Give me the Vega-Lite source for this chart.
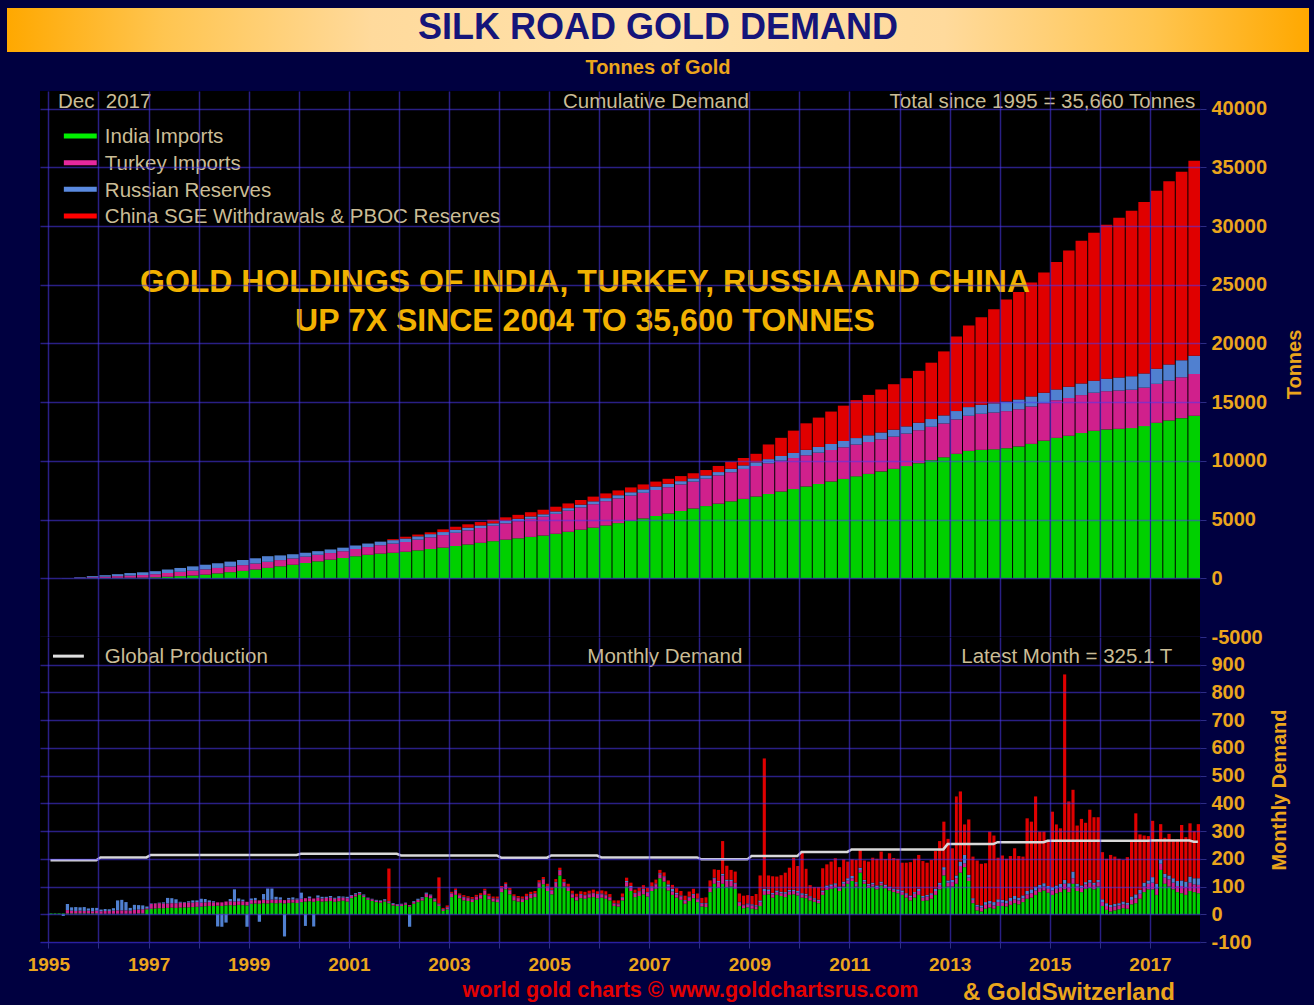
{
"$schema":"https://vega.github.io/schema/vega-lite/v6.json",
"background":"#000040",
"padding":{"left":7,"top":8,"right":5,"bottom":0},
"config":{"font":"Liberation Sans","view":{"fill":"#000000","stroke":null}},
"datasets":{
"cum":[
{"q":"1995-01","a":2,"b":0,"c":0,"d":0},{"q":"1995-04","a":5,"b":4,"c":6,"d":0},{"q":"1995-07","a":12,"b":30,"c":45,"d":0},{"q":"1995-10","a":22,"b":65,"c":95,"d":0},
{"q":"1996-01","a":34,"b":100,"c":130,"d":0},{"q":"1996-04","a":41,"b":140,"c":170,"d":0},{"q":"1996-07","a":49,"b":180,"c":215,"d":0},{"q":"1996-10","a":56,"b":220,"c":235,"d":0},
{"q":"1997-01","a":85,"b":265,"c":255,"d":0},{"q":"1997-04","a":135,"b":315,"c":300,"d":0},{"q":"1997-07","a":185,"b":365,"c":330,"d":0},{"q":"1997-10","a":235,"b":415,"c":365,"d":0},
{"q":"1998-01","a":312,"b":448,"c":395,"d":0},{"q":"1998-04","a":418,"b":462,"c":400,"d":0},{"q":"1998-07","a":522,"b":478,"c":420,"d":0},{"q":"1998-10","a":628,"b":492,"c":440,"d":0},
{"q":"1999-01","a":750,"b":505,"c":450,"d":0},{"q":"1999-04","a":886,"b":515,"c":480,"d":0},{"q":"1999-07","a":1024,"b":525,"c":400,"d":0},{"q":"1999-10","a":1160,"b":535,"c":360,"d":0},
{"q":"2000-01","a":1300,"b":545,"c":330,"d":0},{"q":"2000-04","a":1444,"b":555,"c":310,"d":0},{"q":"2000-07","a":1586,"b":565,"c":305,"d":0},{"q":"2000-10","a":1730,"b":575,"c":302,"d":0},
{"q":"2001-01","a":1880,"b":610,"c":300,"d":0},{"q":"2001-04","a":2000,"b":660,"c":300,"d":0},{"q":"2001-07","a":2100,"b":720,"c":300,"d":0},{"q":"2001-10","a":2170,"b":780,"c":300,"d":80},
{"q":"2002-01","a":2260,"b":840,"c":295,"d":150},{"q":"2002-04","a":2375,"b":915,"c":285,"d":150},{"q":"2002-07","a":2495,"b":995,"c":270,"d":155},{"q":"2002-10","a":2610,"b":1070,"c":258,"d":230},
{"q":"2003-01","a":2740,"b":1140,"c":245,"d":275},{"q":"2003-04","a":2880,"b":1200,"c":235,"d":282},{"q":"2003-07","a":3020,"b":1260,"c":220,"d":290},{"q":"2003-10","a":3160,"b":1320,"c":205,"d":297},
{"q":"2004-01","a":3290,"b":1390,"c":200,"d":312},{"q":"2004-04","a":3405,"b":1460,"c":200,"d":338},{"q":"2004-07","a":3525,"b":1540,"c":200,"d":362},{"q":"2004-10","a":3640,"b":1610,"c":200,"d":388},
{"q":"2005-01","a":3790,"b":1700,"c":205,"d":400},{"q":"2005-04","a":3960,"b":1800,"c":215,"d":400},{"q":"2005-07","a":4140,"b":1900,"c":230,"d":400},{"q":"2005-10","a":4310,"b":2000,"c":245,"d":400},
{"q":"2006-01","a":4500,"b":2070,"c":256,"d":402},{"q":"2006-04","a":4700,"b":2105,"c":270,"d":408},{"q":"2006-07","a":4900,"b":2145,"c":282,"d":412},{"q":"2006-10","a":5100,"b":2180,"c":295,"d":418},
{"q":"2007-01","a":5305,"b":2212,"c":296,"d":422},{"q":"2007-04","a":5520,"b":2238,"c":288,"d":428},{"q":"2007-07","a":5730,"b":2262,"c":280,"d":432},{"q":"2007-10","a":5945,"b":2288,"c":274,"d":438},
{"q":"2008-01","a":6150,"b":2335,"c":274,"d":460},{"q":"2008-04","a":6355,"b":2410,"c":282,"d":520},{"q":"2008-07","a":6555,"b":2480,"c":290,"d":590},{"q":"2008-10","a":6760,"b":2555,"c":297,"d":635},
{"q":"2009-01","a":6965,"b":2598,"c":318,"d":720},{"q":"2009-04","a":7180,"b":2612,"c":355,"d":1250},{"q":"2009-07","a":7390,"b":2628,"c":395,"d":1550},{"q":"2009-10","a":7600,"b":2642,"c":432,"d":1900},
{"q":"2010-01","a":7820,"b":2656,"c":462,"d":2260},{"q":"2010-04","a":8030,"b":2668,"c":488,"d":2500},{"q":"2010-07","a":8245,"b":2682,"c":512,"d":2760},{"q":"2010-10","a":8460,"b":2694,"c":538,"d":3010},
{"q":"2011-01","a":8680,"b":2706,"c":556,"d":3230},{"q":"2011-04","a":8890,"b":2718,"c":568,"d":3440},{"q":"2011-07","a":9105,"b":2732,"c":582,"d":3660},{"q":"2011-10","a":9320,"b":2745,"c":594,"d":3870},
{"q":"2012-01","a":9555,"b":2770,"c":612,"d":4100},{"q":"2012-04","a":9805,"b":2805,"c":638,"d":4420},{"q":"2012-07","a":10055,"b":2845,"c":662,"d":4800},{"q":"2012-10","a":10305,"b":2880,"c":688,"d":5450},
{"q":"2013-01","a":10600,"b":2930,"c":712,"d":6350},{"q":"2013-04","a":10850,"b":2990,"c":740,"d":6950},{"q":"2013-07","a":10940,"b":3070,"c":765,"d":7450},{"q":"2013-10","a":10985,"b":3130,"c":790,"d":8000},
{"q":"2014-01","a":11080,"b":3156,"c":812,"d":8700},{"q":"2014-04","a":11230,"b":3168,"c":838,"d":9150},{"q":"2014-07","a":11450,"b":3180,"c":862,"d":9700},{"q":"2014-10","a":11720,"b":3194,"c":888,"d":10250},
{"q":"2015-01","a":11960,"b":3206,"c":918,"d":10850},{"q":"2015-04","a":12140,"b":3218,"c":950,"d":11600},{"q":"2015-07","a":12370,"b":3232,"c":990,"d":12150},{"q":"2015-10","a":12560,"b":3244,"c":1030,"d":12600},
{"q":"2016-01","a":12680,"b":3254,"c":1070,"d":13100},{"q":"2016-04","a":12730,"b":3262,"c":1110,"d":13600},{"q":"2016-07","a":12790,"b":3270,"c":1150,"d":14100},{"q":"2016-10","a":12960,"b":3276,"c":1210,"d":14600},
{"q":"2017-01","a":13240,"b":3320,"c":1290,"d":15150},{"q":"2017-04","a":13440,"b":3400,"c":1370,"d":15600},{"q":"2017-07","a":13640,"b":3480,"c":1450,"d":16060},{"q":"2017-10","a":13840,"b":3560,"c":1555,"d":16600}
],
"mon":[
{"m":"1995-01","a":3,"b":0,"c":0,"d":0,"g":195},{"m":"1995-02","a":3,"b":0,"c":0,"d":0,"g":195},{"m":"1995-03","a":3,"b":0,"c":0,"d":0,"g":195},{"m":"1995-04","a":3,"b":0,"c":-6,"d":0,"g":195},{"m":"1995-05","a":3,"b":12,"c":22,"d":0,"g":195},{"m":"1995-06","a":3,"b":10,"c":12,"d":0,"g":195},{"m":"1995-07","a":3,"b":9,"c":14,"d":0,"g":195},{"m":"1995-08","a":3,"b":10,"c":12,"d":0,"g":195},{"m":"1995-09","a":3,"b":9,"c":14,"d":0,"g":195},{"m":"1995-10","a":3,"b":10,"c":8,"d":0,"g":195},{"m":"1995-11","a":3,"b":8,"c":12,"d":0,"g":195},{"m":"1995-12","a":3,"b":10,"c":10,"d":0,"g":195},
{"m":"1996-01","a":2,"b":9,"c":6,"d":0,"g":205},{"m":"1996-02","a":2,"b":10,"c":7,"d":0,"g":205},{"m":"1996-03","a":2,"b":10,"c":6,"d":0,"g":205},{"m":"1996-04","a":2,"b":11,"c":9,"d":0,"g":205},{"m":"1996-05","a":2,"b":12,"c":36,"d":0,"g":205},{"m":"1996-06","a":2,"b":12,"c":38,"d":0,"g":205},{"m":"1996-07","a":2,"b":12,"c":30,"d":0,"g":205},{"m":"1996-08","a":2,"b":11,"c":10,"d":0,"g":205},{"m":"1996-09","a":2,"b":14,"c":18,"d":0,"g":205},{"m":"1996-10","a":3,"b":14,"c":16,"d":0,"g":205},{"m":"1996-11","a":3,"b":15,"c":14,"d":0,"g":205},{"m":"1996-12","a":18,"b":4,"c":6,"d":0,"g":205},
{"m":"1997-01","a":20,"b":17,"c":2,"d":0,"g":214},{"m":"1997-02","a":21,"b":18,"c":1,"d":0,"g":214},{"m":"1997-03","a":22,"b":18,"c":2,"d":0,"g":214},{"m":"1997-04","a":22,"b":17,"c":4,"d":0,"g":214},{"m":"1997-05","a":23,"b":16,"c":20,"d":0,"g":214},{"m":"1997-06","a":24,"b":16,"c":18,"d":0,"g":214},{"m":"1997-07","a":23,"b":17,"c":14,"d":0,"g":214},{"m":"1997-08","a":24,"b":18,"c":3,"d":0,"g":214},{"m":"1997-09","a":25,"b":17,"c":2,"d":0,"g":214},{"m":"1997-10","a":25,"b":18,"c":4,"d":0,"g":214},{"m":"1997-11","a":26,"b":16,"c":8,"d":0,"g":214},{"m":"1997-12","a":27,"b":17,"c":6,"d":0,"g":214},
{"m":"1998-01","a":28,"b":14,"c":14,"d":0,"g":214},{"m":"1998-02","a":29,"b":14,"c":12,"d":0,"g":214},{"m":"1998-03","a":30,"b":14,"c":6,"d":0,"g":214},{"m":"1998-04","a":30,"b":13,"c":4,"d":0,"g":214},{"m":"1998-05","a":31,"b":12,"c":-44,"d":0,"g":214},{"m":"1998-06","a":30,"b":13,"c":-45,"d":0,"g":214},{"m":"1998-07","a":32,"b":14,"c":-30,"d":0,"g":214},{"m":"1998-08","a":33,"b":14,"c":8,"d":0,"g":214},{"m":"1998-09","a":32,"b":14,"c":44,"d":0,"g":214},{"m":"1998-10","a":34,"b":13,"c":10,"d":0,"g":214},{"m":"1998-11","a":33,"b":14,"c":6,"d":0,"g":214},{"m":"1998-12","a":32,"b":13,"c":-45,"d":0,"g":214},
{"m":"1999-01","a":38,"b":13,"c":6,"d":0,"g":214},{"m":"1999-02","a":39,"b":12,"c":8,"d":0,"g":214},{"m":"1999-03","a":38,"b":12,"c":-27,"d":0,"g":214},{"m":"1999-04","a":40,"b":13,"c":20,"d":0,"g":214},{"m":"1999-05","a":39,"b":12,"c":42,"d":0,"g":214},{"m":"1999-06","a":41,"b":12,"c":40,"d":0,"g":214},{"m":"1999-07","a":40,"b":13,"c":10,"d":0,"g":214},{"m":"1999-08","a":41,"b":12,"c":8,"d":0,"g":214},{"m":"1999-09","a":39,"b":12,"c":-80,"d":0,"g":214},{"m":"1999-10","a":41,"b":12,"c":6,"d":0,"g":214},{"m":"1999-11","a":42,"b":11,"c":8,"d":0,"g":214},{"m":"1999-12","a":41,"b":12,"c":4,"d":0,"g":214},
{"m":"2000-01","a":44,"b":12,"c":22,"d":0,"g":218},{"m":"2000-02","a":46,"b":12,"c":-42,"d":0,"g":218},{"m":"2000-03","a":47,"b":11,"c":6,"d":0,"g":218},{"m":"2000-04","a":45,"b":12,"c":-44,"d":0,"g":218},{"m":"2000-05","a":48,"b":12,"c":8,"d":0,"g":218},{"m":"2000-06","a":46,"b":11,"c":6,"d":0,"g":218},{"m":"2000-07","a":47,"b":12,"c":4,"d":0,"g":218},{"m":"2000-08","a":48,"b":12,"c":6,"d":0,"g":218},{"m":"2000-09","a":45,"b":11,"c":4,"d":0,"g":218},{"m":"2000-10","a":47,"b":12,"c":6,"d":0,"g":218},{"m":"2000-11","a":49,"b":11,"c":4,"d":0,"g":218},{"m":"2000-12","a":46,"b":12,"c":5,"d":0,"g":218},
{"m":"2001-01","a":58,"b":8,"c":3,"d":0,"g":218},{"m":"2001-02","a":64,"b":8,"c":4,"d":0,"g":218},{"m":"2001-03","a":70,"b":6,"c":4,"d":0,"g":218},{"m":"2001-04","a":62,"b":6,"c":3,"d":0,"g":218},{"m":"2001-05","a":52,"b":6,"c":2,"d":0,"g":218},{"m":"2001-06","a":48,"b":6,"c":2,"d":0,"g":218},{"m":"2001-07","a":44,"b":5,"c":3,"d":0,"g":218},{"m":"2001-08","a":42,"b":6,"c":2,"d":0,"g":218},{"m":"2001-09","a":46,"b":5,"c":3,"d":0,"g":218},{"m":"2001-10","a":40,"b":4,"c":3,"d":118,"g":218},{"m":"2001-11","a":32,"b":5,"c":3,"d":0,"g":218},{"m":"2001-12","a":30,"b":5,"c":2,"d":0,"g":218},
{"m":"2002-01","a":30,"b":6,"c":2,"d":0,"g":212},{"m":"2002-02","a":34,"b":6,"c":2,"d":0,"g":212},{"m":"2002-03","a":28,"b":5,"c":-45,"d":0,"g":212},{"m":"2002-04","a":38,"b":6,"c":3,"d":0,"g":212},{"m":"2002-05","a":44,"b":8,"c":4,"d":0,"g":212},{"m":"2002-06","a":50,"b":8,"c":3,"d":0,"g":212},{"m":"2002-07","a":62,"b":12,"c":4,"d":0,"g":212},{"m":"2002-08","a":58,"b":10,"c":3,"d":0,"g":212},{"m":"2002-09","a":46,"b":8,"c":3,"d":0,"g":212},{"m":"2002-10","a":30,"b":6,"c":3,"d":94,"g":212},{"m":"2002-11","a":12,"b":5,"c":2,"d":4,"g":212},{"m":"2002-12","a":18,"b":6,"c":2,"d":6,"g":212},
{"m":"2003-01","a":62,"b":12,"c":2,"d":5,"g":212},{"m":"2003-02","a":70,"b":14,"c":3,"d":6,"g":212},{"m":"2003-03","a":58,"b":10,"c":2,"d":5,"g":212},{"m":"2003-04","a":50,"b":10,"c":3,"d":6,"g":212},{"m":"2003-05","a":48,"b":10,"c":2,"d":5,"g":212},{"m":"2003-06","a":44,"b":9,"c":3,"d":6,"g":212},{"m":"2003-07","a":52,"b":10,"c":2,"d":6,"g":212},{"m":"2003-08","a":56,"b":10,"c":3,"d":7,"g":212},{"m":"2003-09","a":70,"b":14,"c":2,"d":6,"g":212},{"m":"2003-10","a":54,"b":10,"c":3,"d":7,"g":212},{"m":"2003-11","a":46,"b":10,"c":2,"d":6,"g":212},{"m":"2003-12","a":44,"b":10,"c":3,"d":7,"g":212},
{"m":"2004-01","a":80,"b":14,"c":2,"d":6,"g":204},{"m":"2004-02","a":90,"b":16,"c":3,"d":6,"g":204},{"m":"2004-03","a":72,"b":14,"c":2,"d":7,"g":204},{"m":"2004-04","a":50,"b":12,"c":3,"d":7,"g":204},{"m":"2004-05","a":46,"b":12,"c":2,"d":6,"g":204},{"m":"2004-06","a":44,"b":10,"c":3,"d":7,"g":204},{"m":"2004-07","a":52,"b":12,"c":2,"d":8,"g":204},{"m":"2004-08","a":58,"b":12,"c":3,"d":8,"g":204},{"m":"2004-09","a":62,"b":12,"c":2,"d":8,"g":204},{"m":"2004-10","a":96,"b":16,"c":3,"d":8,"g":204},{"m":"2004-11","a":108,"b":16,"c":2,"d":8,"g":204},{"m":"2004-12","a":84,"b":14,"c":3,"d":9,"g":204},
{"m":"2005-01","a":72,"b":14,"c":2,"d":9,"g":212},{"m":"2005-02","a":98,"b":16,"c":3,"d":10,"g":212},{"m":"2005-03","a":140,"b":16,"c":3,"d":9,"g":212},{"m":"2005-04","a":100,"b":14,"c":3,"d":10,"g":212},{"m":"2005-05","a":84,"b":14,"c":2,"d":10,"g":212},{"m":"2005-06","a":60,"b":12,"c":3,"d":10,"g":212},{"m":"2005-07","a":50,"b":12,"c":2,"d":10,"g":212},{"m":"2005-08","a":58,"b":12,"c":3,"d":10,"g":212},{"m":"2005-09","a":56,"b":12,"c":2,"d":11,"g":212},{"m":"2005-10","a":60,"b":12,"c":3,"d":10,"g":212},{"m":"2005-11","a":62,"b":14,"c":2,"d":11,"g":212},{"m":"2005-12","a":58,"b":12,"c":3,"d":10,"g":212},
{"m":"2006-01","a":60,"b":12,"c":3,"d":11,"g":205},{"m":"2006-02","a":56,"b":12,"c":3,"d":12,"g":205},{"m":"2006-03","a":50,"b":10,"c":2,"d":11,"g":205},{"m":"2006-04","a":30,"b":8,"c":2,"d":10,"g":205},{"m":"2006-05","a":28,"b":8,"c":3,"d":11,"g":205},{"m":"2006-06","a":50,"b":10,"c":3,"d":12,"g":205},{"m":"2006-07","a":100,"b":16,"c":4,"d":12,"g":205},{"m":"2006-08","a":84,"b":14,"c":4,"d":12,"g":205},{"m":"2006-09","a":62,"b":12,"c":3,"d":12,"g":205},{"m":"2006-10","a":66,"b":14,"c":3,"d":14,"g":205},{"m":"2006-11","a":72,"b":16,"c":3,"d":14,"g":205},{"m":"2006-12","a":64,"b":14,"c":3,"d":14,"g":205},
{"m":"2007-01","a":84,"b":14,"c":3,"d":14,"g":205},{"m":"2007-02","a":92,"b":16,"c":3,"d":14,"g":205},{"m":"2007-03","a":130,"b":14,"c":4,"d":12,"g":205},{"m":"2007-04","a":118,"b":16,"c":3,"d":14,"g":205},{"m":"2007-05","a":86,"b":14,"c":8,"d":14,"g":205},{"m":"2007-06","a":70,"b":12,"c":10,"d":14,"g":205},{"m":"2007-07","a":60,"b":12,"c":6,"d":16,"g":205},{"m":"2007-08","a":52,"b":12,"c":4,"d":16,"g":205},{"m":"2007-09","a":38,"b":10,"c":3,"d":16,"g":205},{"m":"2007-10","a":48,"b":12,"c":4,"d":18,"g":205},{"m":"2007-11","a":58,"b":12,"c":4,"d":18,"g":205},{"m":"2007-12","a":44,"b":10,"c":3,"d":18,"g":205},
{"m":"2008-01","a":28,"b":10,"c":3,"d":18,"g":198},{"m":"2008-02","a":26,"b":12,"c":3,"d":20,"g":198},{"m":"2008-03","a":80,"b":16,"c":4,"d":22,"g":198},{"m":"2008-04","a":110,"b":18,"c":4,"d":30,"g":198},{"m":"2008-05","a":96,"b":20,"c":4,"d":40,"g":198},{"m":"2008-06","a":110,"b":30,"c":6,"d":118,"g":198},{"m":"2008-07","a":98,"b":22,"c":5,"d":50,"g":198},{"m":"2008-08","a":100,"b":20,"c":5,"d":35,"g":198},{"m":"2008-09","a":92,"b":18,"c":4,"d":40,"g":198},{"m":"2008-10","a":30,"b":12,"c":3,"d":30,"g":198},{"m":"2008-11","a":22,"b":10,"c":3,"d":32,"g":198},{"m":"2008-12","a":25,"b":10,"c":4,"d":30,"g":198},
{"m":"2009-01","a":20,"b":12,"c":4,"d":30,"g":210},{"m":"2009-02","a":18,"b":10,"c":5,"d":40,"g":210},{"m":"2009-03","a":30,"b":14,"c":6,"d":90,"g":210},{"m":"2009-04","a":70,"b":14,"c":8,"d":470,"g":210},{"m":"2009-05","a":72,"b":12,"c":6,"d":50,"g":210},{"m":"2009-06","a":60,"b":12,"c":5,"d":60,"g":210},{"m":"2009-07","a":70,"b":10,"c":6,"d":50,"g":210},{"m":"2009-08","a":66,"b":10,"c":5,"d":60,"g":210},{"m":"2009-09","a":62,"b":12,"c":6,"d":70,"g":210},{"m":"2009-10","a":70,"b":12,"c":6,"d":80,"g":210},{"m":"2009-11","a":72,"b":12,"c":5,"d":115,"g":210},{"m":"2009-12","a":68,"b":10,"c":6,"d":90,"g":210},
{"m":"2010-01","a":60,"b":10,"c":6,"d":150,"g":225},{"m":"2010-02","a":58,"b":10,"c":6,"d":90,"g":225},{"m":"2010-03","a":50,"b":10,"c":5,"d":40,"g":225},{"m":"2010-04","a":45,"b":8,"c":5,"d":40,"g":225},{"m":"2010-05","a":40,"b":8,"c":5,"d":45,"g":225},{"m":"2010-06","a":70,"b":10,"c":6,"d":80,"g":225},{"m":"2010-07","a":88,"b":10,"c":6,"d":76,"g":225},{"m":"2010-08","a":92,"b":10,"c":6,"d":82,"g":225},{"m":"2010-09","a":96,"b":10,"c":6,"d":90,"g":225},{"m":"2010-10","a":84,"b":10,"c":6,"d":70,"g":225},{"m":"2010-11","a":100,"b":10,"c":8,"d":80,"g":225},{"m":"2010-12","a":110,"b":12,"c":8,"d":60,"g":225},
{"m":"2011-01","a":120,"b":10,"c":8,"d":60,"g":234},{"m":"2011-02","a":100,"b":10,"c":6,"d":80,"g":234},{"m":"2011-03","a":150,"b":10,"c":8,"d":64,"g":234},{"m":"2011-04","a":110,"b":8,"c":6,"d":70,"g":234},{"m":"2011-05","a":96,"b":8,"c":6,"d":80,"g":234},{"m":"2011-06","a":100,"b":8,"c":6,"d":90,"g":234},{"m":"2011-07","a":90,"b":8,"c":6,"d":96,"g":234},{"m":"2011-08","a":104,"b":8,"c":6,"d":108,"g":234},{"m":"2011-09","a":94,"b":8,"c":5,"d":92,"g":234},{"m":"2011-10","a":86,"b":8,"c":6,"d":120,"g":234},{"m":"2011-11","a":80,"b":8,"c":5,"d":110,"g":234},{"m":"2011-12","a":76,"b":8,"c":6,"d":110,"g":234},
{"m":"2012-01","a":70,"b":10,"c":6,"d":100,"g":234},{"m":"2012-02","a":60,"b":10,"c":6,"d":110,"g":234},{"m":"2012-03","a":50,"b":12,"c":6,"d":120,"g":234},{"m":"2012-04","a":60,"b":14,"c":6,"d":120,"g":234},{"m":"2012-05","a":70,"b":14,"c":8,"d":122,"g":234},{"m":"2012-06","a":48,"b":12,"c":6,"d":126,"g":234},{"m":"2012-07","a":50,"b":14,"c":6,"d":116,"g":234},{"m":"2012-08","a":56,"b":14,"c":6,"d":120,"g":234},{"m":"2012-09","a":70,"b":14,"c":8,"d":136,"g":234},{"m":"2012-10","a":90,"b":16,"c":8,"d":150,"g":234},{"m":"2012-11","a":140,"b":20,"c":10,"d":164,"g":234},{"m":"2012-12","a":100,"b":14,"c":8,"d":150,"g":253},
{"m":"2013-01","a":100,"b":16,"c":8,"d":114,"g":253},{"m":"2013-02","a":110,"b":20,"c":10,"d":285,"g":253},{"m":"2013-03","a":150,"b":24,"c":16,"d":253,"g":253},{"m":"2013-04","a":170,"b":14,"c":30,"d":110,"g":253},{"m":"2013-05","a":120,"b":12,"c":10,"d":200,"g":253},{"m":"2013-06","a":40,"b":12,"c":6,"d":150,"g":253},{"m":"2013-07","a":14,"b":14,"c":6,"d":160,"g":253},{"m":"2013-08","a":10,"b":14,"c":8,"d":150,"g":253},{"m":"2013-09","a":20,"b":14,"c":10,"d":140,"g":253},{"m":"2013-10","a":24,"b":14,"c":10,"d":250,"g":253},{"m":"2013-11","a":20,"b":12,"c":12,"d":240,"g":253},{"m":"2013-12","a":30,"b":14,"c":10,"d":150,"g":260},
{"m":"2014-01","a":30,"b":12,"c":10,"d":160,"g":260},{"m":"2014-02","a":28,"b":12,"c":10,"d":150,"g":260},{"m":"2014-03","a":34,"b":14,"c":12,"d":150,"g":260},{"m":"2014-04","a":40,"b":14,"c":12,"d":172,"g":260},{"m":"2014-05","a":36,"b":14,"c":10,"d":150,"g":260},{"m":"2014-06","a":44,"b":14,"c":10,"d":140,"g":260},{"m":"2014-07","a":56,"b":16,"c":12,"d":262,"g":260},{"m":"2014-08","a":60,"b":16,"c":14,"d":244,"g":260},{"m":"2014-09","a":70,"b":16,"c":14,"d":325,"g":260},{"m":"2014-10","a":80,"b":14,"c":12,"d":192,"g":260},{"m":"2014-11","a":86,"b":14,"c":12,"d":186,"g":260},{"m":"2014-12","a":78,"b":14,"c":10,"d":160,"g":265},
{"m":"2015-01","a":70,"b":16,"c":12,"d":272,"g":265},{"m":"2015-02","a":76,"b":16,"c":12,"d":220,"g":265},{"m":"2015-03","a":80,"b":18,"c":12,"d":200,"g":265},{"m":"2015-04","a":90,"b":20,"c":14,"d":741,"g":265},{"m":"2015-05","a":80,"b":18,"c":14,"d":295,"g":265},{"m":"2015-06","a":110,"b":20,"c":24,"d":295,"g":265},{"m":"2015-07","a":84,"b":16,"c":10,"d":210,"g":265},{"m":"2015-08","a":80,"b":16,"c":8,"d":240,"g":265},{"m":"2015-09","a":92,"b":16,"c":8,"d":214,"g":265},{"m":"2015-10","a":96,"b":18,"c":10,"d":253,"g":265},{"m":"2015-11","a":90,"b":16,"c":8,"d":236,"g":265},{"m":"2015-12","a":100,"b":16,"c":8,"d":226,"g":265},
{"m":"2016-01","a":30,"b":14,"c":10,"d":170,"g":265},{"m":"2016-02","a":16,"b":14,"c":10,"d":160,"g":265},{"m":"2016-03","a":10,"b":16,"c":8,"d":180,"g":265},{"m":"2016-04","a":14,"b":14,"c":10,"d":170,"g":265},{"m":"2016-05","a":18,"b":14,"c":8,"d":160,"g":265},{"m":"2016-06","a":22,"b":14,"c":10,"d":150,"g":265},{"m":"2016-07","a":20,"b":14,"c":8,"d":164,"g":265},{"m":"2016-08","a":36,"b":16,"c":12,"d":200,"g":265},{"m":"2016-09","a":40,"b":18,"c":14,"d":292,"g":265},{"m":"2016-10","a":56,"b":18,"c":14,"d":200,"g":265},{"m":"2016-11","a":80,"b":20,"c":14,"d":170,"g":265},{"m":"2016-12","a":90,"b":20,"c":12,"d":160,"g":265},
{"m":"2017-01","a":90,"b":24,"c":20,"d":203,"g":266},{"m":"2017-02","a":70,"b":22,"c":18,"d":160,"g":266},{"m":"2017-03","a":160,"b":22,"c":16,"d":127,"g":266},{"m":"2017-04","a":110,"b":22,"c":14,"d":130,"g":266},{"m":"2017-05","a":100,"b":26,"c":14,"d":150,"g":266},{"m":"2017-06","a":90,"b":24,"c":16,"d":140,"g":266},{"m":"2017-07","a":80,"b":22,"c":18,"d":150,"g":266},{"m":"2017-08","a":76,"b":26,"c":20,"d":200,"g":266},{"m":"2017-09","a":70,"b":28,"c":20,"d":160,"g":266},{"m":"2017-10","a":84,"b":30,"c":22,"d":192,"g":266},{"m":"2017-11","a":80,"b":28,"c":22,"d":170,"g":262},{"m":"2017-12","a":76,"b":30,"c":24,"d":195,"g":262}
]},
"spacing":10,
"vconcat":[
{
"width":1302,"height":44,
"data":{"values":[{"t":"SILK ROAD GOLD DEMAND"}]},
"title":{"text":"Tonnes of Gold","orient":"bottom","anchor":"middle","offset":6,"color":"#eba51c","fontSize":20,"fontWeight":"bold","font":"Liberation Sans"},
"layer":[
{"mark":{"type":"rect","color":{"gradient":"linear","x1":0,"y1":0,"x2":1,"y2":0,"stops":[{"offset":0,"color":"#ffa800"},{"offset":0.12,"color":"#ffc550"},{"offset":0.28,"color":"#ffda9c"},{"offset":0.5,"color":"#ffe2ac"},{"offset":0.72,"color":"#ffda9c"},{"offset":0.88,"color":"#ffc550"},{"offset":1,"color":"#ffa800"}]}},"encoding":{}},
{"mark":{"type":"text","font":"Liberation Sans","fontSize":36,"fontWeight":"bold","color":"#15157a","baseline":"middle","dy":-2},"encoding":{"text":{"field":"t"}}}
]
},
{
"spacing":0,"bounds":"flush",
"hconcat":[
{"width":33,"height":1,"view":{"fill":"#000040","stroke":null},"data":{"values":[{}]},"mark":{"type":"point","opacity":0},"encoding":{}},
{
"spacing":0,"bounds":"flush",
"vconcat":[
{
"width":1160,"height":546,
"resolve":{"axis":{"y":"independent"}},
"layer":[
{
"data":{"name":"cum"},
"transform":[{"fold":["a","b","c","d"],"as":["k","v"]}],
"mark":{"type":"bar","timeUnitBandSize":0.92},
"encoding":{
"x":{"field":"q","type":"temporal","timeUnit":"utcyearquarter","scale":{"type":"utc","domain":[{"year":1994,"month":11,"date":1,"utc":true},{"year":2018,"month":1,"date":1,"utc":true}]},
"axis":{"values":[{"year":1995,"utc":true},{"year":1996,"utc":true},{"year":1997,"utc":true},{"year":1998,"utc":true},{"year":1999,"utc":true},{"year":2000,"utc":true},{"year":2001,"utc":true},{"year":2002,"utc":true},{"year":2003,"utc":true},{"year":2004,"utc":true},{"year":2005,"utc":true},{"year":2006,"utc":true},{"year":2007,"utc":true},{"year":2008,"utc":true},{"year":2009,"utc":true},{"year":2010,"utc":true},{"year":2011,"utc":true},{"year":2012,"utc":true},{"year":2013,"utc":true},{"year":2014,"utc":true},{"year":2015,"utc":true},{"year":2016,"utc":true},{"year":2017,"utc":true}],"labels":false,"ticks":false,"domain":false,"grid":true,"gridColor":"#4a38f0","gridOpacity":0.55,"gridWidth":1.5,"title":null,"zindex":1}},
"y":{"field":"v","type":"quantitative","stack":"zero","scale":{"domain":[-5000,41500],"nice":false},
"axis":{"orient":"right","values":[-5000,0,5000,10000,15000,20000,25000,30000,35000,40000],"labelExpr":"(datum.value < 0 ? '-' : '') + format(abs(datum.value), 'd')","labelFont":"Liberation Sans","labelFontWeight":"bold","labelFontSize":20,"labelColor":"#eba51c","labelPadding":5,"labelOverlap":false,"ticks":true,"tickSize":6,"tickColor":"#2c2c86","domain":false,"grid":true,"gridColor":"#4a38f0","gridOpacity":0.55,"gridWidth":1.5,"zindex":1,"title":"Tonnes","titleFont":"Liberation Sans","titleFontSize":20,"titleFontWeight":"bold","titleColor":"#eba51c","titleAngle":270,"titleBaseline":"top","titlePadding":18}},
"color":{"field":"k","type":"nominal","scale":{"domain":["a","b","c","d"],"range":["#00d000","#d0208c","#5080d0","#e00000"]},"legend":null},
"order":{"field":"k","sort":"ascending"}
}
},
{"data":{"values":[{}]},"mark":{"type":"rule","strokeWidth":5,"color":"#00f000"},
"encoding":{"x":{"datum":{"year":1995,"month":4,"date":24,"utc":true},"type":"temporal"},"x2":{"datum":{"year":1995,"month":12,"date":20,"utc":true}},"y":{"datum":37668,"type":"quantitative","axis":null}}},
{"data":{"values":[{}]},"mark":{"type":"rule","strokeWidth":5,"color":"#e6289e"},
"encoding":{"x":{"datum":{"year":1995,"month":4,"date":24,"utc":true},"type":"temporal"},"x2":{"datum":{"year":1995,"month":12,"date":20,"utc":true}},"y":{"datum":35394,"type":"quantitative","axis":null}}},
{"data":{"values":[{}]},"mark":{"type":"rule","strokeWidth":5,"color":"#5a8ae0"},
"encoding":{"x":{"datum":{"year":1995,"month":4,"date":24,"utc":true},"type":"temporal"},"x2":{"datum":{"year":1995,"month":12,"date":20,"utc":true}},"y":{"datum":33128,"type":"quantitative","axis":null}}},
{"data":{"values":[{}]},"mark":{"type":"rule","strokeWidth":5,"color":"#ff0000"},
"encoding":{"x":{"datum":{"year":1995,"month":4,"date":24,"utc":true},"type":"temporal"},"x2":{"datum":{"year":1995,"month":12,"date":20,"utc":true}},"y":{"datum":30854,"type":"quantitative","axis":null}}},
{"data":{"values":[{}]},"mark":{"type":"text","align":"left","baseline":"alphabetic","font":"Liberation Sans","fontSize":20.5,"color":"#cbbd96","lineHeight":26.67,"text":["India Imports","Turkey Imports","Russian Reserves","China SGE Withdrawals & PBOC Reserves"]},
"encoding":{"x":{"datum":{"year":1996,"month":2,"date":17,"utc":true},"type":"temporal"},"y":{"datum":37046,"type":"quantitative","axis":null}}},
{"data":{"values":[{}]},"mark":{"type":"text","align":"left","baseline":"alphabetic","dy":-1,"font":"Liberation Sans","fontSize":20.5,"color":"#cbbd96","text":"Dec\u00a0\u00a02017"},
"encoding":{"x":{"datum":{"year":1995,"month":3,"date":12,"utc":true},"type":"temporal"},"y":{"datum":40000,"type":"quantitative","axis":null}}},
{"data":{"values":[{}]},"mark":{"type":"text","align":"center","baseline":"alphabetic","dy":-1,"font":"Liberation Sans","fontSize":20.5,"color":"#cbbd96","text":"Cumulative Demand"},
"encoding":{"x":{"datum":{"year":2007,"month":2,"date":19,"utc":true},"type":"temporal"},"y":{"datum":40000,"type":"quantitative","axis":null}}},
{"data":{"values":[{}]},"mark":{"type":"text","align":"right","baseline":"alphabetic","dy":-1,"font":"Liberation Sans","fontSize":20.5,"color":"#cbbd96","text":"Total since 1995 = 35,660 Tonnes"},
"encoding":{"x":{"datum":{"year":2017,"month":11,"date":27,"utc":true},"type":"temporal"},"y":{"datum":40000,"type":"quantitative","axis":null}}},
{"data":{"values":[{}]},"mark":{"type":"text","align":"center","baseline":"alphabetic","font":"Liberation Sans","fontSize":32,"fontWeight":"bold","color":"#f2b200","lineHeight":39,"text":["GOLD HOLDINGS OF INDIA, TURKEY, RUSSIA AND CHINA","UP 7X SINCE 2004 TO 35,600 TONNES"]},
"encoding":{"x":{"datum":{"year":2005,"month":9,"date":20,"utc":true},"type":"temporal"},"y":{"datum":24380,"type":"quantitative","axis":null}}}
]
},
{
"width":1160,"height":305,
"resolve":{"axis":{"y":"independent"}},
"title":{"text":"& GoldSwitzerland","orient":"bottom","anchor":"end","frame":"group","offset":-20,"dx":-25,"color":"#eba51c","fontSize":24,"fontWeight":"bold","font":"Liberation Sans"},
"layer":[
{
"data":{"name":"mon"},
"transform":[{"fold":["a","b","c","d"],"as":["k","v"]}],
"mark":{"type":"bar","timeUnitBandSize":0.8},
"encoding":{
"x":{"field":"m","type":"temporal","timeUnit":"utcyearmonth","scale":{"type":"utc","domain":[{"year":1994,"month":11,"date":1,"utc":true},{"year":2018,"month":1,"date":1,"utc":true}]},
"axis":{"values":[{"year":1995,"utc":true},{"year":1996,"utc":true},{"year":1997,"utc":true},{"year":1998,"utc":true},{"year":1999,"utc":true},{"year":2000,"utc":true},{"year":2001,"utc":true},{"year":2002,"utc":true},{"year":2003,"utc":true},{"year":2004,"utc":true},{"year":2005,"utc":true},{"year":2006,"utc":true},{"year":2007,"utc":true},{"year":2008,"utc":true},{"year":2009,"utc":true},{"year":2010,"utc":true},{"year":2011,"utc":true},{"year":2012,"utc":true},{"year":2013,"utc":true},{"year":2014,"utc":true},{"year":2015,"utc":true},{"year":2016,"utc":true},{"year":2017,"utc":true}],
"labelExpr":"utcyear(datum.value) % 2 == 1 ? utcFormat(datum.value, '%Y') : ''","labelFont":"Liberation Sans","labelFontWeight":"bold","labelFontSize":19,"labelColor":"#eba51c","labelPadding":7,"labelOverlap":false,"labelFlush":false,
"ticks":true,"tickSize":6,"tickColor":"#2c2c86","domain":false,"grid":true,"gridColor":"#4a38f0","gridOpacity":0.55,"gridWidth":1.5,"zindex":1,
"title":"world gold charts © www.goldchartsrus.com","titleColor":"#e30000","titleFont":"Liberation Sans","titleFontSize":21.5,"titleFontWeight":"bold","titlePadding":5,"titleX":650}},
"y":{"field":"v","type":"quantitative","stack":"zero","scale":{"domain":[-100,1000],"nice":false},
"axis":{"orient":"right","values":[-100,0,100,200,300,400,500,600,700,800,900],"labelExpr":"(datum.value < 0 ? '-' : '') + format(abs(datum.value), 'd')","labelFont":"Liberation Sans","labelFontWeight":"bold","labelFontSize":20,"labelColor":"#eba51c","labelPadding":5,"labelOverlap":false,"ticks":true,"tickSize":6,"tickColor":"#2c2c86","domain":false,"grid":true,"gridColor":"#4a38f0","gridOpacity":0.55,"gridWidth":1.5,"zindex":1,"title":"Monthly Demand","titleFont":"Liberation Sans","titleFontSize":20,"titleFontWeight":"bold","titleColor":"#eba51c","titleAngle":270,"titleBaseline":"top","titlePadding":18}},
"color":{"field":"k","type":"nominal","scale":{"domain":["a","b","c","d"],"range":["#00d000","#d0208c","#5080d0","#e00000"]},"legend":null},
"order":{"field":"k","sort":"ascending"}
}
},
{
"data":{"name":"mon"},
"mark":{"type":"line","strokeWidth":2.5,"color":"#d9d9d9"},
"encoding":{
"x":{"field":"m","type":"temporal","timeUnit":"utcyearmonth","bandPosition":0.5},
"y":{"field":"g","type":"quantitative","axis":null}
}
},
{"data":{"values":[{}]},"mark":{"type":"rule","strokeWidth":3,"color":"#e0e0e0"},
"encoding":{"x":{"datum":{"year":1995,"month":2,"date":4,"utc":true},"type":"temporal"},"x2":{"datum":{"year":1995,"month":9,"date":17,"utc":true}},"y":{"datum":931,"type":"quantitative","axis":null}}},
{"data":{"values":[{}]},"mark":{"type":"text","align":"left","baseline":"alphabetic","font":"Liberation Sans","fontSize":20.5,"color":"#cbbd96","text":"Global Production"},
"encoding":{"x":{"datum":{"year":1996,"month":2,"date":17,"utc":true},"type":"temporal"},"y":{"datum":905,"type":"quantitative","axis":null}}},
{"data":{"values":[{}]},"mark":{"type":"text","align":"center","baseline":"alphabetic","font":"Liberation Sans","fontSize":20.5,"color":"#cbbd96","text":"Monthly Demand"},
"encoding":{"x":{"datum":{"year":2007,"month":4,"date":25,"utc":true},"type":"temporal"},"y":{"datum":905,"type":"quantitative","axis":null}}},
{"data":{"values":[{}]},"mark":{"type":"text","align":"right","baseline":"alphabetic","font":"Liberation Sans","fontSize":20.5,"color":"#cbbd96","text":"Latest Month = 325.1 T"},
"encoding":{"x":{"datum":{"year":2017,"month":6,"date":13,"utc":true},"type":"temporal"},"y":{"datum":905,"type":"quantitative","axis":null}}}
]
}
]
}
]
}
]
}
